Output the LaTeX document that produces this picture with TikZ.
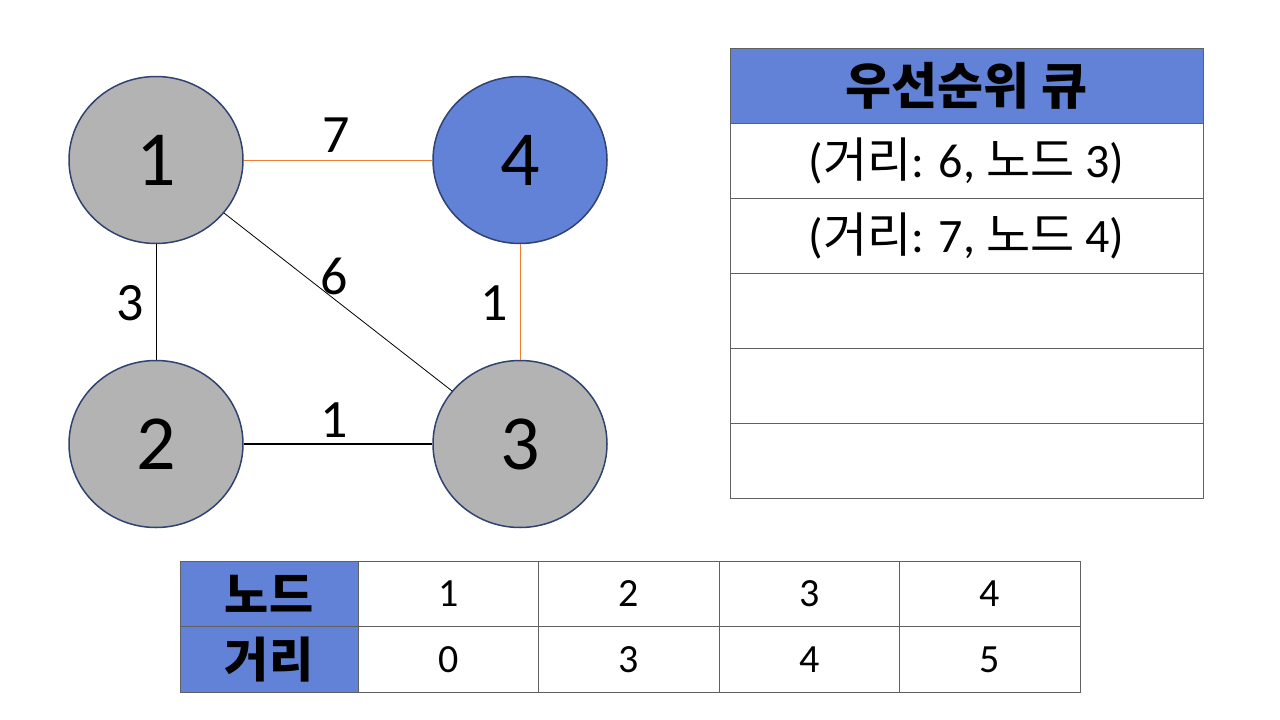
\documentclass[tikz,border=0pt]{standalone}
\usepackage{fontspec}
\usetikzlibrary{shapes.geometric}
\setmainfont{Carlito}
\newfontfamily\kr{Noto Sans CJK KR}
\definecolor{nodegray}{HTML}{B3B3B3}
\definecolor{nodeblue}{HTML}{6182D6}
\definecolor{rimblue}{HTML}{2F4270}
\definecolor{edgeorange}{HTML}{ED7D31}
\definecolor{gridgray}{HTML}{606060}
\begin{document}
\begin{tikzpicture}[x=1pt,y=-1pt]
	\tikzset{vertex/.style={ellipse,draw=rimblue,line width=1.5pt,fill=nodegray,minimum width=174pt,minimum height=167pt,inner sep=0pt,font=\fontsize{78}{80}\selectfont}}
	\tikzset{visited/.style={vertex,fill=nodeblue}}
	\tikzset{weight/.style={font=\fontsize{54}{56}\selectfont}}
	\tikzset{qcell/.style={rectangle,draw=gridgray,line width=1pt,minimum width=473pt,minimum height=75pt,inner sep=0pt,font=\fontsize{48}{50}\selectfont}}
	\tikzset{dcell/.style={rectangle,draw=gridgray,line width=1pt,minimum width=180.5pt,minimum height=65.5pt,inner sep=0pt,font=\fontsize{40}{42}\selectfont}}
	\tikzset{headcell/.style={fill=nodeblue,font=\kr\bfseries\fontsize{50}{52}\selectfont}}
	\useasboundingbox (0,0) rectangle (1280,720);
	% graph
	\node[vertex] (n1) at (156,160) {1};
	\node[visited] (n4) at (520,160) {4};
	\node[vertex] (n2) at (156,444) {2};
	\node[vertex] (n3) at (520,444) {3};
	\draw[edgeorange,line width=1pt] (n1)--(n4);
	\draw[edgeorange,line width=1pt] (n4)--(n3);
	\draw[line width=1pt] (n1)--(n2);
	\draw[line width=1.2pt] (n2)--(n3);
	\draw[line width=0.8pt] (n1)--(n3);
	\node[weight] (w14) at (336,135) {7};
	\node[weight] (w13) at (334,276) {6};
	\node[weight] (w12) at (130,303) {3};
	\node[weight] (w43) at (494,303) {1};
	\node[weight] (w23) at (334,420) {1};
	% priority queue
	\node[qcell,headcell] (qh) at (966.5,85.5) {우선순위 큐};
	\node[qcell] (q1) at (966.5,160.5) {({\kr 거리}: 6, {\kr 노드} 3)};
	\node[qcell] (q2) at (966.5,235.5) {({\kr 거리}: 7, {\kr 노드} 4)};
	\node[qcell] (q3) at (966.5,310.5) {};
	\node[qcell] (q4) at (966.5,385.5) {};
	\node[qcell] (q5) at (966.5,460.5) {};
	% distance table
	\node[dcell,headcell,minimum width=178pt,font=\kr\bfseries\fontsize{48}{50}\selectfont] (dn) at (269,594) {노드};
	\node[dcell,headcell,minimum width=178pt,font=\kr\bfseries\fontsize{48}{50}\selectfont] (dd) at (269,659.5) {거리};
	\foreach \i/\v/\d in {1/1/0,2/2/3,3/3/4,4/4/5}{
		\node[dcell] (n\i c) at (358+180.5*\i-90.25,594) {\v};
		\node[dcell] (d\i c) at (358+180.5*\i-90.25,659.5) {\d};
	}
\end{tikzpicture}
\end{document}
